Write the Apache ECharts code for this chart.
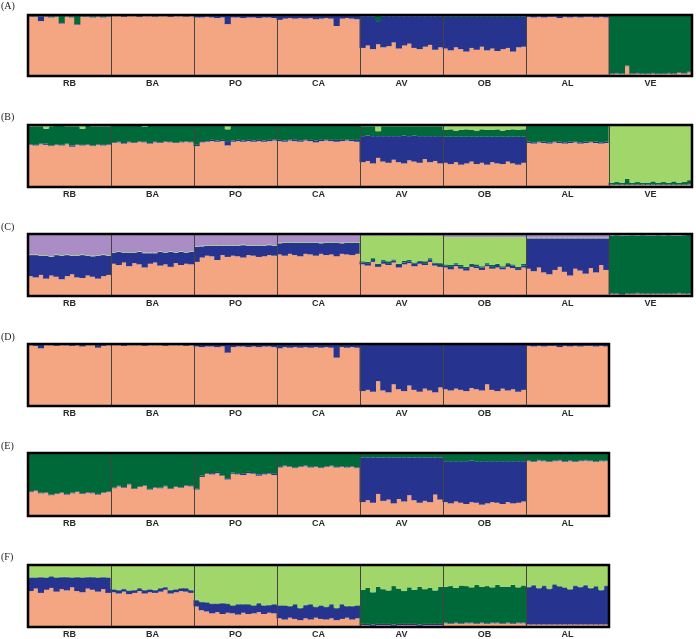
<!DOCTYPE html>
<html><head><meta charset="utf-8">
<script src="https://cdn.jsdelivr.net/npm/echarts@6/dist/echarts.min.js"></script>
<style>html,body{margin:0;padding:0;background:#fff}#c{width:696px;height:639px}</style>
</head><body><div id="c"></div>
<script>
const pops8 = ['RB','BA','PO','CA','AV','OB','AL','VE'];
const pops7 = ['RB','BA','PO','CA','AV','OB','AL'];
const panelLetters = ['(A)','(B)','(C)','(D)','(E)','(F)'];

// Panel A: orange, blue (green = remainder)
const A_orange = [
97,97,90,97,96,97,86,97,96,84,97,97,96,97,96,97,
98,98,97,98,98,97,98,98,97,98,98,97,98,98,97,98,
96,96,97,96,95,96,85,96,96,95,96,96,95,96,96,95,
92,94,95,94,95,94,95,93,94,95,94,82,94,95,94,93,
46,50,44,52,47,49,55,45,50,53,46,44,48,51,43,47,
45,42,47,44,40,46,43,48,42,45,41,44,46,40,47,48,
97,96,97,96,97,97,95,97,96,97,96,97,97,96,97,96,
3,4,3,16,3,4,3,3,4,3,3,4,3,5,4,6];
const A_blue = [
1,1,8,1,1,1,1,1,1,1,1,1,1,1,1,1,
1,1,2,1,1,2,1,1,1,1,1,2,1,1,1,1,
3,3,2,3,4,3,14,3,3,4,3,3,4,3,3,4,
7,5,4,5,4,5,4,6,5,4,5,17,5,4,5,6,
52,48,54,38,51,49,43,53,48,45,52,54,50,47,55,51,
52,55,50,53,57,51,54,49,55,52,56,53,51,57,50,49,
3,3,2,3,2,2,4,2,3,2,3,2,2,3,2,3,
1,1,1,1,1,1,1,1,1,1,1,1,1,1,1,1];

// Panel B: orange, blue, dark green (light green = remainder)
const B_orange = [
68,67,69,68,66,68,67,69,65,68,67,68,66,68,67,68,
71,72,70,72,71,73,72,70,72,71,73,72,71,72,73,72,
66,72,73,74,73,74,67,73,74,73,74,73,74,73,74,75,
74,73,75,74,73,75,74,72,74,75,74,73,74,75,74,73,
40,42,38,47,41,39,44,40,38,43,41,39,45,40,42,38,
39,37,40,36,38,41,37,39,36,40,38,37,41,38,36,39,
71,70,72,71,70,72,71,70,71,72,70,71,72,71,70,71,
3,3,3,3,3,3,3,3,3,3,3,3,3,3,3,4];
const B_blue = [
1,1,1,2,1,1,1,1,2,1,1,1,1,1,1,1,
1,1,1,1,1,1,1,1,1,1,1,1,1,1,1,1,
2,2,1,2,2,2,7,2,2,2,2,2,2,2,2,2,
2,2,2,3,2,2,2,3,2,2,2,3,2,2,2,3,
42,41,44,35,41,43,38,42,45,39,42,43,37,42,40,44,
42,44,41,45,43,40,44,42,45,41,43,44,40,43,45,42,
2,2,1,2,2,1,2,2,2,1,2,2,1,2,2,2,
1,1,1,1,1,1,1,1,1,1,1,1,1,1,1,1];
const B_dgreen = [
29,30,28,24,31,30,31,28,31,29,26,30,31,29,30,29,
27,26,28,26,27,25,24,28,26,27,25,26,27,26,25,26,
31,25,25,23,24,23,19,24,23,24,23,24,23,24,23,22,
23,24,22,22,24,22,23,24,23,22,23,23,23,22,23,23,
16,15,16,8,16,16,16,16,15,16,15,16,16,16,16,16,
11,12,10,11,12,11,10,12,11,11,12,10,11,12,11,12,
26,27,26,26,27,26,26,27,26,26,27,26,26,26,27,26,
3,4,3,9,3,4,3,3,5,3,4,3,5,3,4,6];

// Panel C: orange, blue, dark green, light green (purple = remainder)
const C_orange = [
32,30,34,28,33,31,27,32,35,30,29,33,31,28,32,34,
52,50,54,48,53,51,46,52,54,49,51,47,53,50,52,51,
55,62,65,64,58,66,63,65,64,62,66,65,63,64,66,65,
67,65,68,66,64,68,67,65,68,66,67,64,68,67,66,68,
51,49,55,47,52,50,54,46,51,53,48,52,50,55,49,47,
46,43,48,44,41,47,45,42,48,44,46,43,47,45,42,46,
44,40,46,38,35,42,47,39,33,44,41,36,45,38,50,42,
3,3,2,3,3,4,3,3,3,3,3,3,3,4,3,3];
const C_blue = [
34,36,31,37,30,35,38,34,30,35,37,32,33,37,34,31,
18,21,16,22,17,20,23,17,15,22,19,24,17,21,18,20,
24,18,16,17,23,15,18,16,17,20,15,16,18,17,16,16,
18,21,18,20,22,18,19,21,17,20,19,22,17,19,20,18,
3,4,3,3,4,3,3,4,3,3,4,3,3,4,3,3,
3,4,3,3,4,3,3,4,3,3,4,3,3,4,3,3,
49,53,47,55,58,51,46,54,60,49,52,57,48,55,43,51,
1,1,1,1,1,1,1,1,1,1,1,1,1,1,1,1];
const C_dgreen = [
0,0,0,0,0,0,0,0,0,0,0,0,0,0,0,0,
0,0,0,0,0,0,0,0,0,0,0,0,0,0,0,0,
0,0,0,0,0,0,0,0,0,0,0,0,0,0,0,0,
0,0,0,0,0,0,0,0,0,0,0,0,0,0,0,0,
2,2,3,2,2,3,2,2,3,2,2,2,3,2,2,3,
2,3,2,3,2,2,3,2,2,3,2,2,3,2,2,3,
0,0,0,0,0,0,0,0,0,0,0,0,0,0,0,0,
93,94,94,93,94,92,94,93,93,94,93,94,93,92,94,95];
const C_lgreen = [
1,1,1,1,1,1,1,1,1,1,1,1,1,1,1,1,
1,1,1,1,1,1,1,1,1,1,1,1,1,1,1,1,
1,1,1,1,1,1,1,1,1,1,1,1,1,1,1,1,
1,1,1,1,1,1,1,1,1,1,1,1,1,1,1,1,
41,42,36,45,39,41,38,45,40,39,43,40,41,36,43,44,
44,45,42,45,48,43,44,47,42,45,43,47,42,44,48,43,
1,1,1,1,1,1,1,1,1,1,1,1,1,1,1,1,
0,0,0,0,0,0,0,0,0,0,0,0,0,0,0,0];

// Panel D: orange (blue = remainder)
const D_orange = [
98,97,93,98,98,97,98,98,97,98,96,98,98,94,97,98,
98,98,97,98,98,98,97,98,98,98,97,98,98,98,97,98,
96,95,96,96,95,96,86,95,96,96,95,96,95,96,96,95,
93,95,94,95,94,95,94,95,94,95,94,78,95,94,95,94,
24,26,23,40,25,22,35,27,24,33,26,23,28,25,22,30,
27,25,28,26,24,29,27,25,35,26,24,28,25,27,23,26,
97,96,97,96,97,97,95,97,96,97,96,97,97,96,97,96];

// Panel E: orange, blue (dark green = remainder)
const E_orange = [
38,40,36,37,33,35,37,34,36,38,35,37,36,34,37,38,
44,47,45,50,43,46,48,42,45,44,47,43,46,45,48,47,
42,62,67,66,68,64,58,67,66,65,68,67,64,66,67,65,
77,79,78,76,78,79,77,78,76,78,79,77,78,77,78,76,
22,25,21,35,24,26,20,27,23,33,25,21,24,22,34,26,
22,20,23,21,19,22,21,18,20,22,21,19,22,20,21,23,
87,86,88,87,86,87,88,86,87,86,87,88,87,86,87,87];
const E_blue = [
1,1,1,1,1,1,1,1,1,1,1,1,1,1,1,1,
1,1,1,1,1,1,1,1,1,1,1,1,1,1,1,1,
2,2,1,2,2,1,2,2,1,2,2,1,2,2,1,2,
1,1,1,1,1,1,1,1,1,1,1,1,1,1,1,1,
71,68,72,58,69,67,73,66,70,60,68,72,69,71,59,67,
65,67,64,66,68,66,65,69,67,65,66,68,65,67,66,64,
1,1,1,1,1,1,1,1,1,1,1,1,1,1,1,1];

// Panel F: orange, blue, dark green (light green = remainder)
const F_orange = [
58,62,55,60,63,57,61,59,64,58,56,62,60,57,61,55,
56,54,57,53,55,58,54,56,55,57,60,54,56,58,57,55,
33,27,25,22,24,21,23,22,20,23,21,22,24,21,23,22,
14,12,15,13,11,14,12,15,13,12,14,11,13,15,12,14,
3,3,2,3,3,3,2,3,3,3,3,2,3,3,3,3,
6,5,6,5,6,6,5,6,5,6,6,5,6,5,6,6,
4,4,4,4,4,4,4,4,4,4,4,4,4,4,4,4];
const F_blue = [
21,17,25,19,18,22,19,21,15,22,23,18,20,22,19,24,
4,5,4,5,4,4,5,4,4,5,4,5,4,4,5,4,
10,13,14,15,13,17,14,12,16,13,15,12,14,13,12,14,
20,22,18,23,19,21,24,17,21,20,22,19,23,18,21,20,
2,2,2,2,2,2,2,2,2,2,2,2,2,2,2,2,
1,1,1,1,1,1,1,1,1,1,1,1,1,1,1,1,
60,63,58,62,57,64,61,59,56,62,60,63,58,61,55,62];
const F_dgreen = [
1,1,1,1,1,1,1,1,1,1,1,1,1,1,1,1,
1,1,1,1,1,1,1,1,1,1,1,1,1,1,1,1,
1,1,1,1,1,1,1,1,1,1,1,1,1,1,1,1,
1,1,1,1,1,1,1,1,1,1,1,1,1,1,1,1,
55,58,52,60,56,54,62,57,53,59,55,61,56,58,54,60,
58,60,56,61,59,57,62,58,60,57,61,59,58,62,57,60,
1,1,1,1,1,1,1,1,1,1,1,1,1,1,1,1];

const COL = {orange:'#F4A582', blue:'#26348F', dgreen:'#00693A', lgreen:'#A1D66B', purple:'#AB8DC6'};

const panels = [
  {pops: pops8, top: 15, height: 61, comps: [[A_orange,'orange'],[A_blue,'blue']], rest:'dgreen'},
  {pops: pops8, top: 125, height: 62, comps: [[B_orange,'orange'],[B_blue,'blue'],[B_dgreen,'dgreen']], rest:'lgreen'},
  {pops: pops8, top: 234, height: 62, comps: [[C_orange,'orange'],[C_blue,'blue'],[C_dgreen,'dgreen'],[C_lgreen,'lgreen']], rest:'purple'},
  {pops: pops7, top: 344, height: 62, comps: [[D_orange,'orange']], rest:'blue'},
  {pops: pops7, top: 453, height: 63, comps: [[E_orange,'orange'],[E_blue,'blue']], rest:'dgreen'},
  {pops: pops7, top: 565, height: 62, comps: [[F_orange,'orange'],[F_blue,'blue'],[F_dgreen,'dgreen']], rest:'lgreen'}
];
const letterTops = [1, 112, 222, 332, 441, 552];

const grid = [], xAxis = [], yAxis = [], series = [], title = [];
panels.forEach((p, i) => {
  const n = p.comps[0][0].length;
  grid.push({left: 28, top: p.top, width: p.pops.length * 83, height: p.height,
    show: true, borderColor: '#000', borderWidth: 2.5, backgroundColor: 'transparent', z: 20});
  const idx = [];
  for (let k = 0; k < n; k++) idx.push(String(k));
  xAxis.push({type: 'category', gridIndex: i, data: idx, show: false, boundaryGap: true});
  xAxis.push({type: 'category', gridIndex: i, data: p.pops, position: 'bottom', z: 15,
    axisLine: {show: false}, axisTick: {show: false},
    axisLabel: {show: true, fontSize: 9, fontWeight: 'bold', color: '#2a2a2a', margin: 3, fontFamily: 'Liberation Sans, Arial, sans-serif'},
    splitLine: {show: true, lineStyle: {color: '#444', width: 1}}});
  yAxis.push({type: 'value', gridIndex: i, min: 0, max: 100, show: false});
  const restData = [];
  for (let k = 0; k < n; k++) {
    let s = 0; p.comps.forEach(c => s += c[0][k]);
    restData.push(100 - s);
  }
  const all = p.comps.concat([[restData, p.rest]]);
  all.forEach(c => {
    series.push({type: 'bar', xAxisIndex: i * 2, yAxisIndex: i, stack: 'p' + i,
      data: c[0], barWidth: '118%', silent: true, animation: false,
      itemStyle: {color: COL[c[1]]}});
  });
  title.push({text: panelLetters[i], left: 1, top: letterTops[i], padding: 0,
    textStyle: {fontFamily: 'Liberation Serif, Times New Roman, serif', fontSize: 10, fontWeight: 'normal', color: '#222'}});
});

const chart = echarts.init(document.getElementById('c'), null, {renderer: 'canvas'});
chart.setOption({animation: false, title, grid, xAxis, yAxis, series});
</script></body></html>
